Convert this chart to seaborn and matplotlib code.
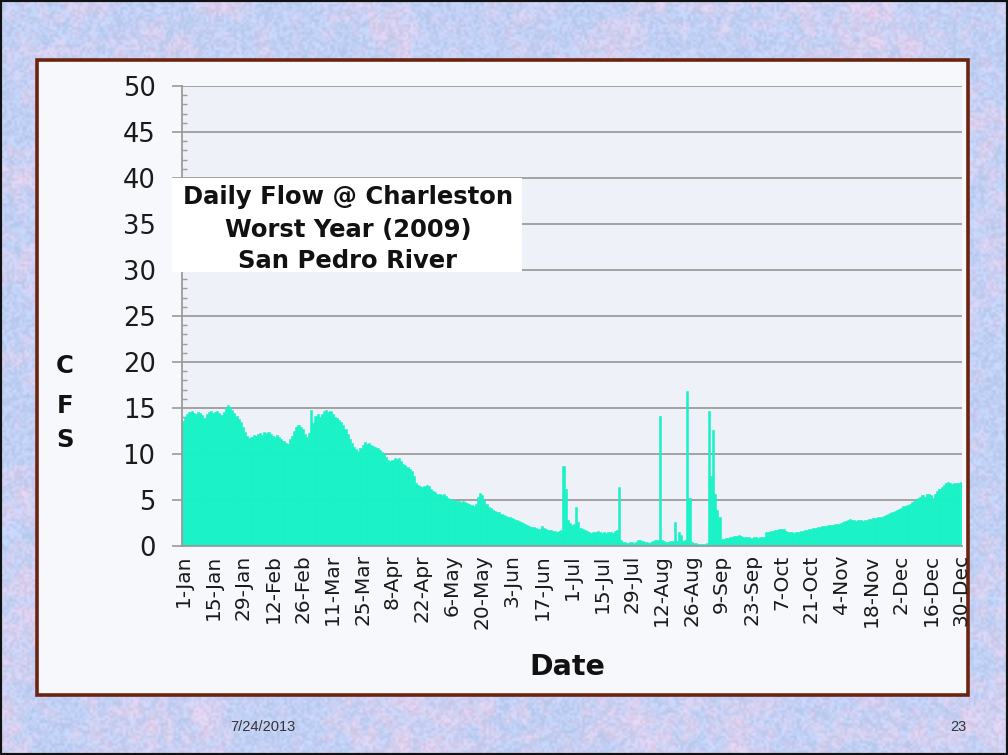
import numpy as np
import pandas as pd
import matplotlib
matplotlib.use("Agg")
import matplotlib.pyplot as plt
from matplotlib.patches import Rectangle
import seaborn as sns

# Daily mean discharge (cfs), San Pedro River at Charleston, 2009, month by month
jan = [13.6, 14.0, 14.3, 14.6, 14.7, 14.5, 14.4, 14.6, 14.5, 14.2, 13.9, 14.3, 14.6, 14.7, 14.5, 14.6,
       14.7, 14.5, 14.2, 14.6, 15.0, 15.3, 15.1, 14.8, 14.5, 14.1, 13.8, 13.5, 12.9, 12.4, 12.0]
feb = [11.7, 11.9, 12.1, 12.0, 12.2, 12.3, 12.1, 12.4, 12.3, 12.4, 12.2, 12.0, 11.9, 12.1, 11.8, 11.6,
       11.4, 11.2, 11.1, 11.6, 12.0, 12.5, 12.9, 13.1, 12.9, 12.7, 12.2, 11.8]
mar = [12.3, 14.8, 13.4, 14.1, 14.4, 14.0, 14.3, 14.7, 14.8, 14.6, 14.7, 14.4, 14.0, 13.9, 13.7, 13.5,
       13.2, 12.7, 12.2, 11.6, 11.2, 10.8, 10.5, 10.3, 10.6, 11.0, 11.3, 11.1, 11.2, 11.0, 10.9]
apr = [10.8, 10.6, 10.4, 10.2, 10.0, 9.7, 9.4, 9.2, 9.3, 9.6, 9.5, 9.6, 9.2, 8.9, 8.8, 8.6,
       8.4, 8.2, 7.6, 6.9, 6.6, 6.5, 6.4, 6.5, 6.6, 6.5, 6.2, 6.0, 5.9, 5.7]
may = [5.6, 5.5, 5.6, 5.4, 5.2, 5.1, 5.0, 5.0, 4.9, 4.9, 4.8, 4.9, 4.8, 4.7, 4.6, 4.5,
       4.4, 4.6, 5.3, 5.8, 5.5, 5.0, 4.6, 4.2, 4.1, 3.9, 3.8, 3.7, 3.7, 3.5, 3.4]
jun = [3.3, 3.2, 3.1, 3.0, 2.9, 2.8, 2.7, 2.6, 2.5, 2.4, 2.3, 2.2, 2.1, 2.1, 2.0, 1.9,
       1.9, 2.2, 2.0, 1.8, 1.7, 1.7, 1.6, 1.6, 1.5, 1.6, 1.7, 8.7, 6.2, 2.8]
jul = [2.5, 2.3, 2.4, 4.2, 2.6, 2.0, 1.9, 1.7, 1.6, 1.5, 1.4, 1.5, 1.5, 1.6, 1.5, 1.4,
       1.5, 1.4, 1.5, 1.5, 1.4, 1.6, 1.7, 6.4, 0.6, 0.4, 0.4, 0.3, 0.4, 0.4, 0.3]
aug = [0.4, 0.6, 0.7, 0.5, 0.4, 0.4, 0.3, 0.4, 0.5, 0.6, 0.7, 14.1, 0.6, 0.5, 0.4, 0.4,
       0.5, 0.5, 2.6, 0.5, 1.5, 1.2, 0.5, 0.6, 16.8, 5.2, 0.4, 0.3, 0.3, 0.2, 0.2]
sep = [0.2, 0.2, 0.3, 14.7, 7.6, 12.6, 5.7, 3.9, 3.2, 0.8, 0.8, 0.9, 0.9, 1.0, 1.0, 1.1,
       1.1, 1.2, 1.1, 1.0, 1.0, 1.0, 1.0, 0.9, 1.0, 1.0, 0.9, 1.0, 1.0, 1.0]
oct_ = [1.5, 1.5, 1.6, 1.6, 1.7, 1.7, 1.8, 1.9, 1.8, 1.6, 1.5, 1.5, 1.5, 1.4, 1.5, 1.5,
        1.6, 1.6, 1.7, 1.7, 1.8, 1.9, 2.0, 2.0, 2.1, 2.1, 2.2, 2.2, 2.2, 2.3, 2.3]
nov = [2.3, 2.4, 2.4, 2.4, 2.5, 2.6, 2.7, 2.8, 2.9, 2.8, 2.8, 2.7, 2.8, 2.8, 2.7, 2.8,
       2.8, 2.9, 2.9, 3.0, 3.0, 3.1, 3.1, 3.2, 3.3, 3.4, 3.5, 3.6, 3.7, 3.8]
dec = [3.9, 4.0, 4.1, 4.3, 4.4, 4.5, 4.6, 4.8, 4.9, 5.0, 5.2, 5.3, 5.5, 5.3, 5.6, 5.7,
       5.5, 5.2, 5.6, 6.0, 6.2, 6.4, 6.6, 6.9, 7.0, 6.8, 6.7, 6.8, 6.9, 6.9, 7.0]

date_labels = ["1-Jan", "15-Jan", "29-Jan", "12-Feb", "26-Feb", "11-Mar", "25-Mar", "8-Apr",
               "22-Apr", "6-May", "20-May", "3-Jun", "17-Jun", "1-Jul", "15-Jul", "29-Jul",
               "12-Aug", "26-Aug", "9-Sep", "23-Sep", "7-Oct", "21-Oct", "4-Nov", "18-Nov",
               "2-Dec", "16-Dec", "30-Dec"]
y_ticks = [0, 5, 10, 15, 20, 25, 30, 35, 40, 45, 50]
title_lines = ["Daily Flow @ Charleston", "Worst Year (2009)", "San Pedro River"]

flow = jan + feb + mar + apr + may + jun + jul + aug + sep + oct_ + nov + dec
df = pd.DataFrame({"day": np.arange(len(flow)), "cfs": flow})

sns.set_theme(style="white")
plt.rcParams["font.family"] = ["DejaVu Sans"]

W, H = 1008, 755
fig = plt.figure(figsize=(W / 100, H / 100), dpi=100)


def fx(px):
    return px / W


def fy(py):
    return 1 - py / H


def smooth(a, h, w):
    ys = np.linspace(0, a.shape[0] - 1, h)
    xs = np.linspace(0, a.shape[1] - 1, w)
    rows = np.array([np.interp(xs, np.arange(a.shape[1]), r) for r in a])
    return np.array([np.interp(ys, np.arange(a.shape[0]), c) for c in rows.T]).T


# Slide backdrop: pastel blue/pink parchment texture with fine speckle
rng = np.random.default_rng(11)
blot = 0.5 * smooth(rng.random((18, 24)), H, W) + 0.5 * smooth(rng.random((90, 120)), H, W)
grain = smooth(rng.random((300, 400)), H, W) - 0.5
blue = np.array([192, 208, 245]) / 255
pink = np.array([230, 208, 236]) / 255
t = np.clip((blot - 0.38) * 1.8, 0, 1)[..., None]
tex = blue * (1 - t) + pink * t
tex = np.clip(tex + 0.09 * grain[..., None], 0, 1)
bg = fig.add_axes([0, 0, 1, 1], zorder=-10)
bg.imshow(tex, aspect="auto", interpolation="bilinear")
bg.axis("off")

# Chart frame with dark-brown border
fig.add_artist(Rectangle((fx(37), fy(695)), fx(968 - 37), (695 - 60) / H, transform=fig.transFigure,
                         facecolor="#f7f8fc", edgecolor="#6b2410", linewidth=2.6, zorder=-5))
fig.add_artist(Rectangle((0, 0), 1, 1, transform=fig.transFigure, fill=False,
                         edgecolor="#111111", linewidth=3, zorder=20))

ax = fig.add_axes([fx(182), fy(546), fx(962 - 182), (546 - 86) / H])
ax.set_facecolor("#eff1f8")
sns.barplot(data=df, x="day", y="cfs", color="#17f2c6", width=1.0, saturation=1,
            edgecolor="#17f2c6", linewidth=0.4, ax=ax)

ax.set_xlim(-0.5, len(flow) - 0.5)
ax.set_ylim(0, 50)
ax.set_xticks(np.arange(0, 14 * len(date_labels), 14), date_labels, rotation=90, fontsize=14.5,
              color="#1a1a1a")
ax.set_yticks(y_ticks, [str(v) for v in y_ticks], fontsize=18.5, color="#1a1a1a")
ax.set_yticks(np.arange(0, 51, 1), minor=True)
ax.tick_params(axis="x", length=0, pad=6)
ax.tick_params(axis="y", which="major", direction="out", length=7, width=1.2, color="#9a9a9a", pad=12,
               left=True)
ax.tick_params(axis="y", which="minor", direction="in", length=3.5, width=1.0, color="#9a9a9a",
               left=True)
ax.yaxis.grid(True, which="major", color="#9c9c9c", linewidth=1.3)
ax.set_axisbelow(True)
for side in ["top", "right"]:
    ax.spines[side].set_visible(False)
for side in ["left", "bottom"]:
    ax.spines[side].set_color("#9a9a9a")
    ax.spines[side].set_linewidth(1.3)
ax.set_xlabel("")
ax.set_ylabel("")

# Title box
fig.add_artist(Rectangle((fx(172), fy(272)), fx(522 - 172), (272 - 178) / H, transform=fig.transFigure,
                         facecolor="white", edgecolor="none", zorder=2))
for line, py in zip(title_lines, [197, 230, 261]):
    fig.text(fx(348), fy(py), line, ha="center", va="center", fontsize=17.5, fontweight="bold",
             color="#111111", zorder=3)

# Axis titles
for letter, py in zip("CFS", [366, 406, 440]):
    fig.text(fx(65), fy(py), letter, ha="center", va="center", fontsize=17.5, fontweight="bold",
             color="#111111")
fig.text(fx(567), fy(667), "Date", ha="center", va="center", fontsize=20.5, fontweight="bold",
         color="#111111")

# Slide footer
fig.text(fx(263), fy(727), "7/24/2013", ha="center", va="center", fontsize=10.5,
         family="Liberation Sans", color="#333333")
fig.text(fx(958), fy(727), "23", ha="center", va="center", fontsize=10.5,
         family="Liberation Sans", color="#333333")

fig.savefig("out.png", dpi=100)
